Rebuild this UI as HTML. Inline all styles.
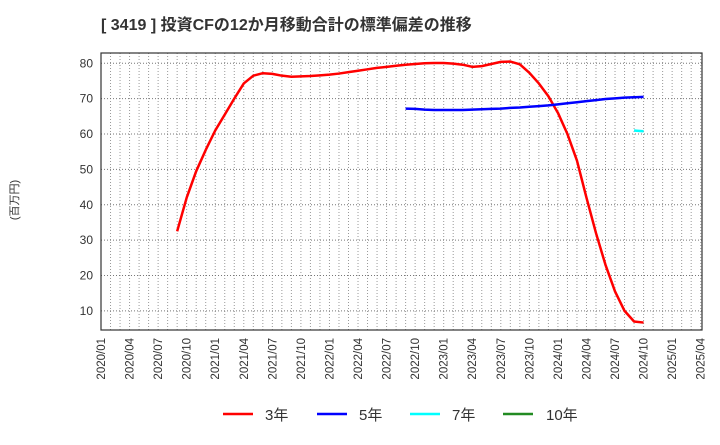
<!DOCTYPE html>
<html><head><meta charset="utf-8"><style>
body{margin:0;background:#fff;font-family:"Liberation Sans","Noto Sans CJK JP",sans-serif}
</style></head><body>
<svg width="720" height="440" xmlns="http://www.w3.org/2000/svg" font-family="Liberation Sans, Noto Sans CJK JP, sans-serif">
<text x="101" y="30" font-size="16" font-weight="bold" fill="#333">[ 3419 ]  投資CFの12か月移動合計の標準偏差の推移</text>
<text transform="translate(18,200) rotate(-90)" font-size="11" fill="#333" text-anchor="middle">(百万円)</text>
<g id="grid"></g><g id="axes"></g><g id="series"></g>
<g font-size="15" fill="#333">
<line x1="223" y1="414" x2="253" y2="414" stroke="#ff0000" stroke-width="2.5"/><text x="265" y="420">3年</text>
<line x1="317" y1="414" x2="347" y2="414" stroke="#0000ff" stroke-width="2.5"/><text x="359" y="420">5年</text>
<line x1="410" y1="414" x2="440" y2="414" stroke="#00ffff" stroke-width="2.5"/><text x="452" y="420">7年</text>
<line x1="503" y1="414" x2="533" y2="414" stroke="#228b22" stroke-width="2.5"/><text x="546" y="420">10年</text>
</g>
</svg>
<script>
const yTicks=[10,20,30,40,50,60,70,80];
const xTickLabels=["2020/01","2020/04","2020/07","2020/10","2021/01","2021/04","2021/07","2021/10","2022/01","2022/04","2022/07","2022/10","2023/01","2023/04","2023/07","2023/10","2024/01","2024/04","2024/07","2024/10","2025/01","2025/04"];
const red3Start=8;
const red3=[32.5,42,49.5,55.5,61,65.5,70,74.3,76.5,77.2,77,76.5,76.2,76.3,76.4,76.6,76.8,77.1,77.5,77.9,78.3,78.7,79,79.3,79.6,79.8,80,80.1,80.1,79.9,79.6,79,79.2,79.8,80.4,80.5,79.7,77.3,74.3,70.7,66,60,52.5,42,32,23,15.5,10,7,6.7];
const blue5Start=32;
const blue5=[67.2,67.1,66.9,66.8,66.8,66.8,66.8,66.9,67,67.1,67.2,67.4,67.5,67.7,67.9,68.1,68.4,68.7,69,69.3,69.6,69.9,70.1,70.3,70.4,70.5];
const cyan7Start=56;
const cyan7=[61,60.8];
const L=101,R=702,T=53,B=330;
const x=m=>L+m*(700.7-L)/63;
const y=v=>63.3+(80-v)*3.537;
const NS="http://www.w3.org/2000/svg";
function mk(p,t,a){const e=document.createElementNS(NS,t);for(const k in a)e.setAttribute(k,a[k]);document.getElementById(p).appendChild(e);return e;}
for(let m=1;m<64;m++){const e=mk('grid','line',{x1:x(m),x2:x(m),y1:T,y2:B,stroke:'#999','stroke-dasharray':'1,2','stroke-width':1});

}
yTicks.forEach(v=>{const e=mk('grid','line',{x1:L,x2:R,y1:y(v),y2:y(v),stroke:'#777','stroke-dasharray':'1,2'});


const t=mk('axes','text',{x:L-8,y:y(v)+4,'font-size':12,fill:'#333','text-anchor':'end'});t.textContent=v;

});
xTickLabels.forEach((s,i)=>{const px=x(i*3);const t=mk('axes','text',{transform:`translate(${px+4},338) rotate(-90)`,'font-size':11.5,fill:'#333','text-anchor':'end'});t.textContent=s;

});
const fr=mk('axes','rect',{x:L,y:T,width:R-L,height:B-T,fill:'none',stroke:'#333','stroke-width':1.2});


function line(d,s,c,n){const p=mk('series','polyline',{points:d.map((v,i)=>x(s+i)+','+y(v)).join(' '),fill:'none',stroke:c,'stroke-width':2.5,'stroke-linejoin':'round'});

}
line(red3,red3Start,'#ff0000','series-3y');
line(blue5,blue5Start,'#0000ff','series-5y');
line(cyan7,cyan7Start,'#00ffff','series-7y');
</script>
</body></html>
